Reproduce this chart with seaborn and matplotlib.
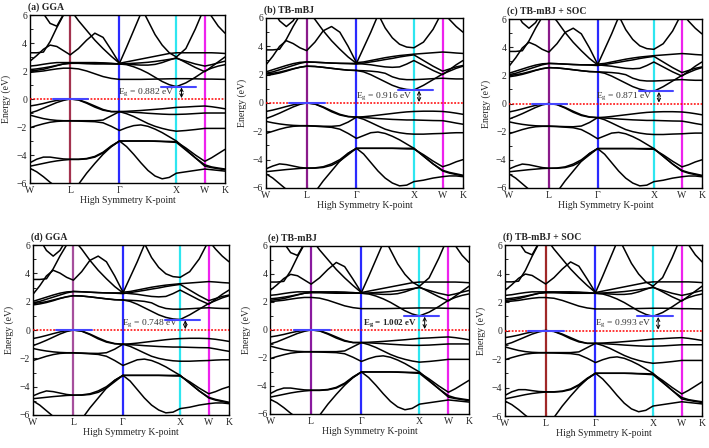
import numpy as np
import pandas as pd
import seaborn as sns
import matplotlib.pyplot as plt

# high-symmetry path W-L-G-X-W-K (units 2pi/a) and samples per segment
k_nodes = [0.0, 0.707, 1.573, 2.573, 3.073, 3.427]
k_labels = ['W', 'L', 'Γ', 'X', 'W', 'K']
k_steps = [6, 6, 8, 3, 3]

# band set A (panels a, e, f), eV at the 27 k samples; 8.0 = above the window
A_v1 = [-0.5, -0.42, -0.32, -0.2, -0.1, -0.03, 0.0, -0.05, -0.25, -0.5, -0.75, -0.9, -0.9, -0.88, -0.85, -0.82, -0.78, -0.74, -0.7, -0.65, -0.6, -0.57, -0.53, -0.5, -0.55, -0.62, -0.7]
A_v2 = [-1.0, -0.85, -0.65, -0.45, -0.25, -0.1, 0.0, -0.07, -0.3, -0.58, -0.8, -0.9, -0.9, -0.92, -0.95, -0.98, -1.02, -1.05, -1.08, -1.1, -1.1, -1.08, -1.04, -1.0, -1.0, -1.0, -1.0]
A_v3 = [-1.15, -1.28, -1.4, -1.48, -1.53, -1.55, -1.55, -1.55, -1.55, -1.55, -1.5, -1.2, -0.9, -1.05, -1.25, -1.5, -1.75, -1.95, -2.1, -2.22, -2.3, -2.25, -2.18, -2.1, -2.1, -2.1, -2.1]
A_v4 = [-2.05, -1.9, -1.77, -1.66, -1.6, -1.57, -1.57, -1.58, -1.6, -1.62, -1.7, -1.95, -2.25, -2.05, -1.9, -1.85, -1.95, -2.15, -2.4, -2.7, -3.0, -3.6, -4.2, -4.8, -4.9, -4.98, -5.05]
A_v5 = [-4.55, -4.3, -4.15, -4.15, -4.22, -4.28, -4.3, -4.3, -4.25, -4.1, -3.8, -3.35, -3.0, -3.0, -3.0, -3.0, -3.0, -3.0, -3.02, -3.03, -3.05, -3.5, -4.0, -4.45, -4.2, -3.9, -3.6]
A_v6 = [-4.8, -4.7, -4.6, -4.5, -4.42, -4.36, -4.32, -4.32, -4.28, -4.15, -3.85, -3.4, -3.0, -3.0, -3.0, -3.0, -3.0, -3.02, -3.04, -3.07, -3.1, -3.65, -4.2, -4.7, -4.85, -4.93, -5.0]
A_v7 = [-4.95, -5.2, -5.55, -5.95, -6.3, -6.6, -6.8, -6.1, -5.3, -4.6, -3.95, -3.4, -3.0, -3.4, -3.95, -4.55, -5.1, -5.5, -5.7, -5.6, -5.3, -5.2, -5.1, -5.0, -5.05, -5.1, -5.15]
A_c1 = [1.9, 1.95, 2.0, 2.08, 2.15, 2.2, 2.2, 2.15, 2.0, 1.8, 1.6, 1.47, 1.4, 1.4, 1.4, 1.4, 1.41, 1.42, 1.43, 1.44, 1.45, 1.45, 1.44, 1.42, 1.42, 1.41, 1.4]
A_c2 = [2.0, 2.05, 2.12, 2.25, 2.38, 2.5, 2.55, 2.55, 2.55, 2.55, 2.55, 2.52, 2.5, 2.45, 2.3, 2.1, 1.85, 1.55, 1.25, 1.02, 0.88, 1.15, 1.55, 2.0, 2.2, 2.35, 2.45]
A_c3 = [2.35, 2.4, 2.48, 2.55, 2.6, 2.6, 2.6, 2.6, 2.6, 2.6, 2.58, 2.55, 2.5, 2.52, 2.55, 2.58, 2.62, 2.68, 2.75, 2.83, 2.9, 2.7, 2.5, 2.35, 2.45, 2.58, 2.7]
A_c4 = [2.7, 3.1, 3.55, 3.85, 3.75, 3.45, 3.15, 3.6, 4.2, 4.7, 4.4, 3.5, 2.55, 2.65, 2.75, 2.85, 2.95, 3.05, 3.15, 3.25, 3.3, 3.3, 3.3, 3.3, 3.3, 3.28, 3.25]
A_c5 = [3.3, 3.3, 3.35, 4.1, 5.1, 6.0, 6.4, 5.6, 4.9, 4.2, 3.6, 3.05, 2.55, 3.7, 4.9, 6.1, 7.0, 8.0, 8.0, 8.0, 8.0, 8.0, 8.0, 8.0, 8.0, 8.0, 8.0]
A_c6 = [8.0, 7.2, 6.1, 5.4, 5.2, 6.05, 7.0, 8.0, 8.0, 8.0, 8.0, 8.0, 8.0, 8.0, 8.0, 8.0, 8.0, 8.0, 8.0, 8.0, 8.0, 8.0, 8.0, 8.0, 8.0, 8.0, 8.0]
A_c7 = [8.0, 8.0, 8.0, 8.0, 8.0, 8.0, 8.0, 8.0, 8.0, 8.0, 8.0, 8.0, 8.0, 8.0, 7.6, 6.6, 5.6, 4.6, 3.85, 3.3, 3.0, 3.6, 5.0, 6.6, 5.9, 5.2, 4.7]
A_c8 = [2.1, 2.15, 2.22, 2.3, 2.4, 2.5, 2.55, 2.55, 2.52, 2.5, 2.5, 2.5, 2.5, 2.48, 2.45, 2.42, 2.42, 2.47, 2.6, 2.78, 2.95, 2.6, 2.25, 1.95, 2.3, 2.65, 3.0]

# band set B (panels b, c, d)
B_v1 = [-0.6, -0.5, -0.38, -0.25, -0.13, -0.04, 0.0, -0.06, -0.28, -0.55, -0.8, -0.95, -1.0, -0.97, -0.92, -0.86, -0.8, -0.74, -0.68, -0.63, -0.6, -0.58, -0.58, -0.6, -0.65, -0.72, -0.8]
B_v2 = [-1.1, -0.92, -0.72, -0.5, -0.28, -0.1, 0.0, -0.08, -0.32, -0.62, -0.85, -0.97, -1.0, -1.03, -1.06, -1.1, -1.13, -1.16, -1.18, -1.2, -1.2, -1.22, -1.24, -1.25, -1.33, -1.42, -1.5]
B_v3 = [-1.3, -1.4, -1.48, -1.54, -1.58, -1.6, -1.6, -1.62, -1.64, -1.65, -1.6, -1.35, -1.0, -1.15, -1.38, -1.62, -1.85, -2.0, -2.1, -2.17, -2.2, -2.2, -2.17, -2.15, -2.12, -2.1, -2.1]
B_v4 = [-2.15, -2.0, -1.85, -1.73, -1.65, -1.62, -1.62, -1.64, -1.68, -1.72, -1.85, -2.15, -2.5, -2.3, -2.1, -2.05, -2.15, -2.35, -2.6, -2.9, -3.2, -3.75, -4.3, -4.8, -4.95, -5.05, -5.15]
B_v5 = [-4.65, -4.45, -4.3, -4.35, -4.45, -4.55, -4.6, -4.58, -4.5, -4.3, -4.0, -3.55, -3.2, -3.2, -3.2, -3.2, -3.2, -3.2, -3.22, -3.24, -3.25, -3.65, -4.1, -4.5, -4.35, -4.15, -4.0]
B_v6 = [-4.85, -4.8, -4.75, -4.7, -4.66, -4.62, -4.6, -4.6, -4.55, -4.4, -4.1, -3.65, -3.2, -3.2, -3.2, -3.2, -3.2, -3.2, -3.2, -3.2, -3.2, -3.75, -4.3, -4.75, -4.9, -5.0, -5.1]
B_v7 = [-5.0, -5.3, -5.7, -6.1, -6.4, -6.7, -6.9, -6.3, -5.5, -4.8, -4.1, -3.55, -3.2, -3.6, -4.2, -4.8, -5.3, -5.65, -5.85, -5.8, -5.55, -5.45, -5.3, -5.2, -5.15, -5.15, -5.2]
B_c1 = [1.95, 2.02, 2.12, 2.25, 2.4, 2.52, 2.6, 2.58, 2.52, 2.45, 2.38, 2.32, 2.3, 2.28, 2.25, 2.2, 2.1, 1.85, 1.7, 1.65, 1.65, 1.68, 1.72, 1.75, 1.72, 1.7, 1.7]
B_c2 = [2.05, 2.1, 2.18, 2.3, 2.42, 2.53, 2.6, 2.58, 2.52, 2.45, 2.38, 2.32, 2.3, 2.2, 2.0, 1.75, 1.5, 1.25, 1.07, 0.96, 0.92, 1.25, 1.65, 2.05, 2.25, 2.45, 2.6]
B_c3 = [2.2, 2.35, 2.5, 2.65, 2.78, 2.87, 2.9, 2.88, 2.85, 2.82, 2.8, 2.78, 2.75, 2.82, 2.9, 2.98, 3.07, 3.15, 3.25, 3.33, 3.4, 3.0, 2.6, 2.25, 2.4, 2.55, 2.65]
B_c4 = [2.7, 3.3, 4.0, 4.4, 4.2, 3.9, 3.7, 4.3, 5.1, 5.4, 5.0, 4.0, 2.85, 2.9, 3.0, 3.1, 3.2, 3.28, 3.35, 3.4, 3.45, 3.5, 3.55, 3.6, 3.57, 3.53, 3.5]
B_c5 = [3.75, 3.75, 3.8, 4.5, 5.4, 6.2, 6.6, 5.9, 5.1, 4.4, 3.8, 3.25, 2.8, 3.9, 5.0, 6.2, 7.2, 8.0, 8.0, 8.0, 8.0, 8.0, 8.0, 8.0, 8.0, 8.0, 8.0]
B_c6 = [8.0, 6.6, 5.8, 5.4, 5.8, 6.6, 8.0, 8.0, 8.0, 8.0, 8.0, 8.0, 8.0, 8.0, 8.0, 8.0, 8.0, 8.0, 8.0, 8.0, 8.0, 8.0, 8.0, 8.0, 8.0, 8.0, 8.0]
B_c7 = [8.0, 8.0, 8.0, 8.0, 8.0, 8.0, 8.0, 8.0, 8.0, 8.0, 8.0, 8.0, 8.0, 8.0, 7.4, 6.3, 5.3, 4.6, 4.15, 3.95, 3.9, 4.3, 5.2, 6.5, 5.9, 5.4, 5.0]
B_c8 = [2.1, 2.2, 2.35, 2.5, 2.65, 2.8, 2.9, 2.88, 2.85, 2.82, 2.8, 2.8, 2.8, 2.75, 2.7, 2.62, 2.55, 2.52, 2.55, 2.75, 3.0, 2.65, 2.3, 2.0, 2.35, 2.7, 3.0]

A_valence = [A_v1, A_v2, A_v3, A_v4, A_v5, A_v6, A_v7]
A_conduction = [A_c1, A_c2, A_c3, A_c4, A_c5, A_c6, A_c7, A_c8]
B_valence = [B_v1, B_v2, B_v3, B_v4, B_v5, B_v6, B_v7]
B_conduction = [B_c1, B_c2, B_c3, B_c4, B_c5, B_c6, B_c7, B_c8]

panel_titles = ['(a) GGA', '(b) TB-mBJ', '(c) TB-mBJ + SOC',
                '(d) GGA', '(e) TB-mBJ', '(f) TB-mBJ + SOC']
panel_gaps = [0.882, 0.916, 0.871, 0.748, 1.002, 0.993]
panel_sets = ['A', 'B', 'B', 'B', 'A', 'A']
panel_L_colors = ['#a3324e', '#8a1a8a', '#8a1a8a', '#a64f9c', '#8a1a9e', '#a02828']
panel_rects = [
    [0.0423, 0.5915, 0.2750, 0.3750],
    [0.3752, 0.5804, 0.2778, 0.3795],
    [0.7180, 0.5804, 0.2720, 0.3770],
    [0.0465, 0.0737, 0.2765, 0.3790],
    [0.3810, 0.0760, 0.2805, 0.3750],
    [0.7123, 0.0714, 0.2780, 0.3817],
]

sns.set_style('ticks')
plt.rcParams['font.family'] = ['Liberation Serif', 'DejaVu Serif']
plt.rcParams['mathtext.fontset'] = 'custom'
plt.rcParams['mathtext.rm'] = 'Liberation Serif'
plt.rcParams['mathtext.bf'] = 'Liberation Serif:bold'

k = [k_nodes[0]]
for i, n in enumerate(k_steps):
    k += list(np.linspace(k_nodes[i], k_nodes[i + 1], n + 1)[1:])

fig = plt.figure(figsize=(7.09, 4.48), dpi=100)

for p in range(6):
    ax = fig.add_axes(panel_rects[p])
    if panel_sets[p] == 'A':
        vb, cb = A_valence, A_conduction
    else:
        vb, cb = B_valence, B_conduction
    eg = panel_gaps[p]
    shift = eg - min(cb[1])  # scissor the conduction bands onto the quoted gap

    rows = []
    for b, band in enumerate(vb):
        assert len(band) == len(k)
        for kk, e in zip(k, band):
            rows.append((b, kk, e))
    for b, band in enumerate(cb):
        assert len(band) == len(k)
        for kk, e in zip(k, band):
            rows.append((100 + b, kk, e + shift))
    df = pd.DataFrame(rows, columns=['band', 'k', 'E'])

    line_colors = [panel_L_colors[p], '#2a2aff', '#2ee6f0', '#ee22ee']
    for kn, c in zip(k_nodes[1:5], line_colors):
        ax.axvline(kn, color=c, lw=1.6, zorder=1)

    sns.lineplot(data=df, x='k', y='E', units='band', estimator=None, sort=False,
                 color='black', lw=1.1, ax=ax, legend=False, zorder=2)

    ax.axhline(0, color='red', ls=(0, (1.2, 1.0)), lw=1.1, zorder=4)
    kL, kX = k_nodes[1], k_nodes[3]
    ax.plot([kL - 0.30, kL + 0.32], [0, 0], color='#4646ff', lw=1.5, zorder=5)
    ax.plot([kX - 0.27, kX + 0.34], [eg, eg], color='#4646ff', lw=1.5, zorder=5)
    ax.annotate('', xy=(kX + 0.09, eg - 0.05), xytext=(kX + 0.09, 0.07),
                arrowprops=dict(arrowstyle='<->', lw=0.7, color='black',
                                shrinkA=0, shrinkB=0, mutation_scale=6), zorder=6)
    if p == 4:
        ax.text(kX - 0.04, 0.5, r'$\mathbf{E_g}$ = %.3f eV' % eg, ha='right', va='center',
                fontsize=6.5, fontweight='bold', color='#222222')
    else:
        ax.text(kX - 0.03, 0.5, r'$\mathrm{E_g}$ = %.3f eV' % eg, ha='right', va='center',
                fontsize=6.8, color='#333333')

    ax.set_xlim(k_nodes[0], k_nodes[-1])
    ax.set_ylim(-6, 6)
    ax.set_xticks(k_nodes)
    ax.set_xticklabels(k_labels)
    ax.set_yticks([-6, -4, -2, 0, 2, 4, 6])
    ax.set_yticks(range(-6, 7), minor=True)
    ax.tick_params(direction='in', length=3, width=0.8, labelsize=7, pad=2)
    ax.tick_params(which='minor', direction='in', length=2, width=0.7)
    for s in ax.spines.values():
        s.set_linewidth(1.0)
        s.set_color('black')
    ax.set_xlabel('High Symmetry K-point', fontsize=7, labelpad=1)
    ax.set_ylabel('Energy (eV)', fontsize=7)
    ax.yaxis.set_label_coords(-0.095, 0.5)
    ax.text(-0.01, 1.045, panel_titles[p], transform=ax.transAxes, ha='left',
            va='center', fontsize=7, fontweight='bold')

fig.savefig('out.png', dpi=100)
